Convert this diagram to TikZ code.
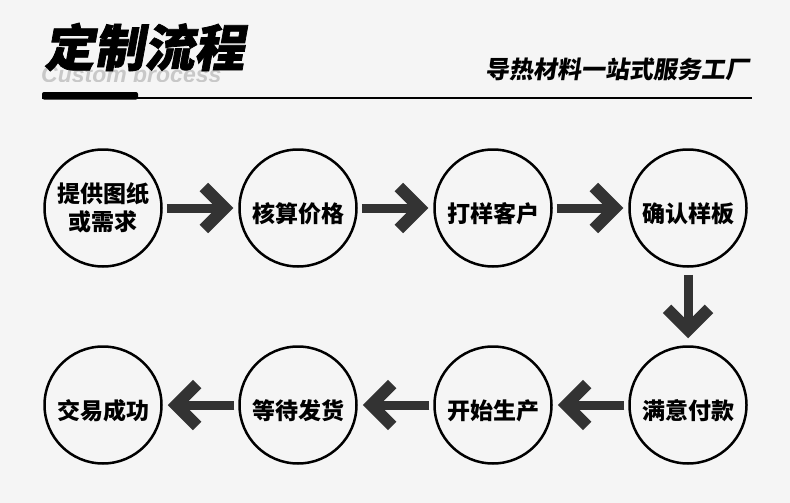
\documentclass[tikz,border=0pt]{standalone}
\usepackage{xcolor}
\usepackage{fontspec}
\usetikzlibrary{arrows.meta,positioning}
\setmainfont{Noto Sans CJK SC}
\newfontfamily\titlefont{Noto Sans CJK SC}[FakeSlant=0.18,FakeBold=1.5]
\newfontfamily\sloganfont{Noto Sans CJK SC}[FakeSlant=0.15]
\newfontfamily\latinfont{Liberation Sans}
\definecolor{pagebg}{HTML}{F5F5F5}
\definecolor{arrowgray}{HTML}{333333}
\definecolor{ghostgray}{HTML}{C8C8C8}

\begin{document}
\begin{tikzpicture}[x=1pt,y=-1pt,
	stage/.style={circle, draw=black, line width=2.5pt, minimum size=117pt,
		inner sep=0pt, align=center, font=\bfseries\fontsize{23}{28}\selectfont,
		execute at begin node={\rule{0pt}{32pt}}},
	flow/.style={draw=arrowgray, line width=9pt,
		-{Straight Barb[length=21pt,width=42pt,line width=12pt,sharp]},
		shorten <=4pt, shorten >=5pt}]
				% background and heading
				\fill[pagebg] (0,0) rectangle (790,503);
				\begin{scope}
					\clip (0,0) rectangle (790,82);
					\node[anchor=base west, inner sep=0pt, text=ghostgray,
						font=\latinfont\bfseries\itshape\fontsize{23}{23}\selectfont]
						(subtitle) at (41,83) {Custom process};
				\end{scope}
				\node[anchor=west, inner sep=0pt,
					font=\titlefont\bfseries\fontsize{50}{50}\selectfont]
					(title) at (44,47) {定制流程};
				\node[anchor=east, inner sep=0pt,
					font=\sloganfont\bfseries\fontsize{24}{24}\selectfont]
					(slogan) at (750,69) {导热材料一站式服务工厂};
				\draw[line width=1.3pt] (42,98) -- (752,98);
				\fill[rounded corners=2pt] (42,92) rectangle (138,99.5);
				
				% the eight steps
				\node[stage] (drawings) at (103,208) {提供图纸\\或需求};
				\node[stage, right=75.5pt of drawings] (pricing) {核算价格};
				\node[stage, right=75.5pt of pricing] (sample) {打样客户};
				\node[stage, right=75.5pt of sample] (confirm) {确认样板};
				\node[stage, below=77.5pt of confirm] (payment) {满意付款};
				\node[stage, left=75.5pt of payment] (production) {开始生产};
				\node[stage, left=75.5pt of production] (shipping) {等待发货};
				\node[stage, left=75.5pt of shipping] (done) {交易成功};
				
				% arrows between the steps
				\draw[flow] (drawings) -- (pricing);
				\draw[flow] (pricing) -- (sample);
				\draw[flow] (sample) -- (confirm);
				\draw[flow, shorten <=7pt, shorten >=7pt] (confirm) -- (payment);
				\draw[flow] (payment) -- (production);
				\draw[flow] (production) -- (shipping);
				\draw[flow] (shipping) -- (done);
				
			\end{tikzpicture}
\end{document}
